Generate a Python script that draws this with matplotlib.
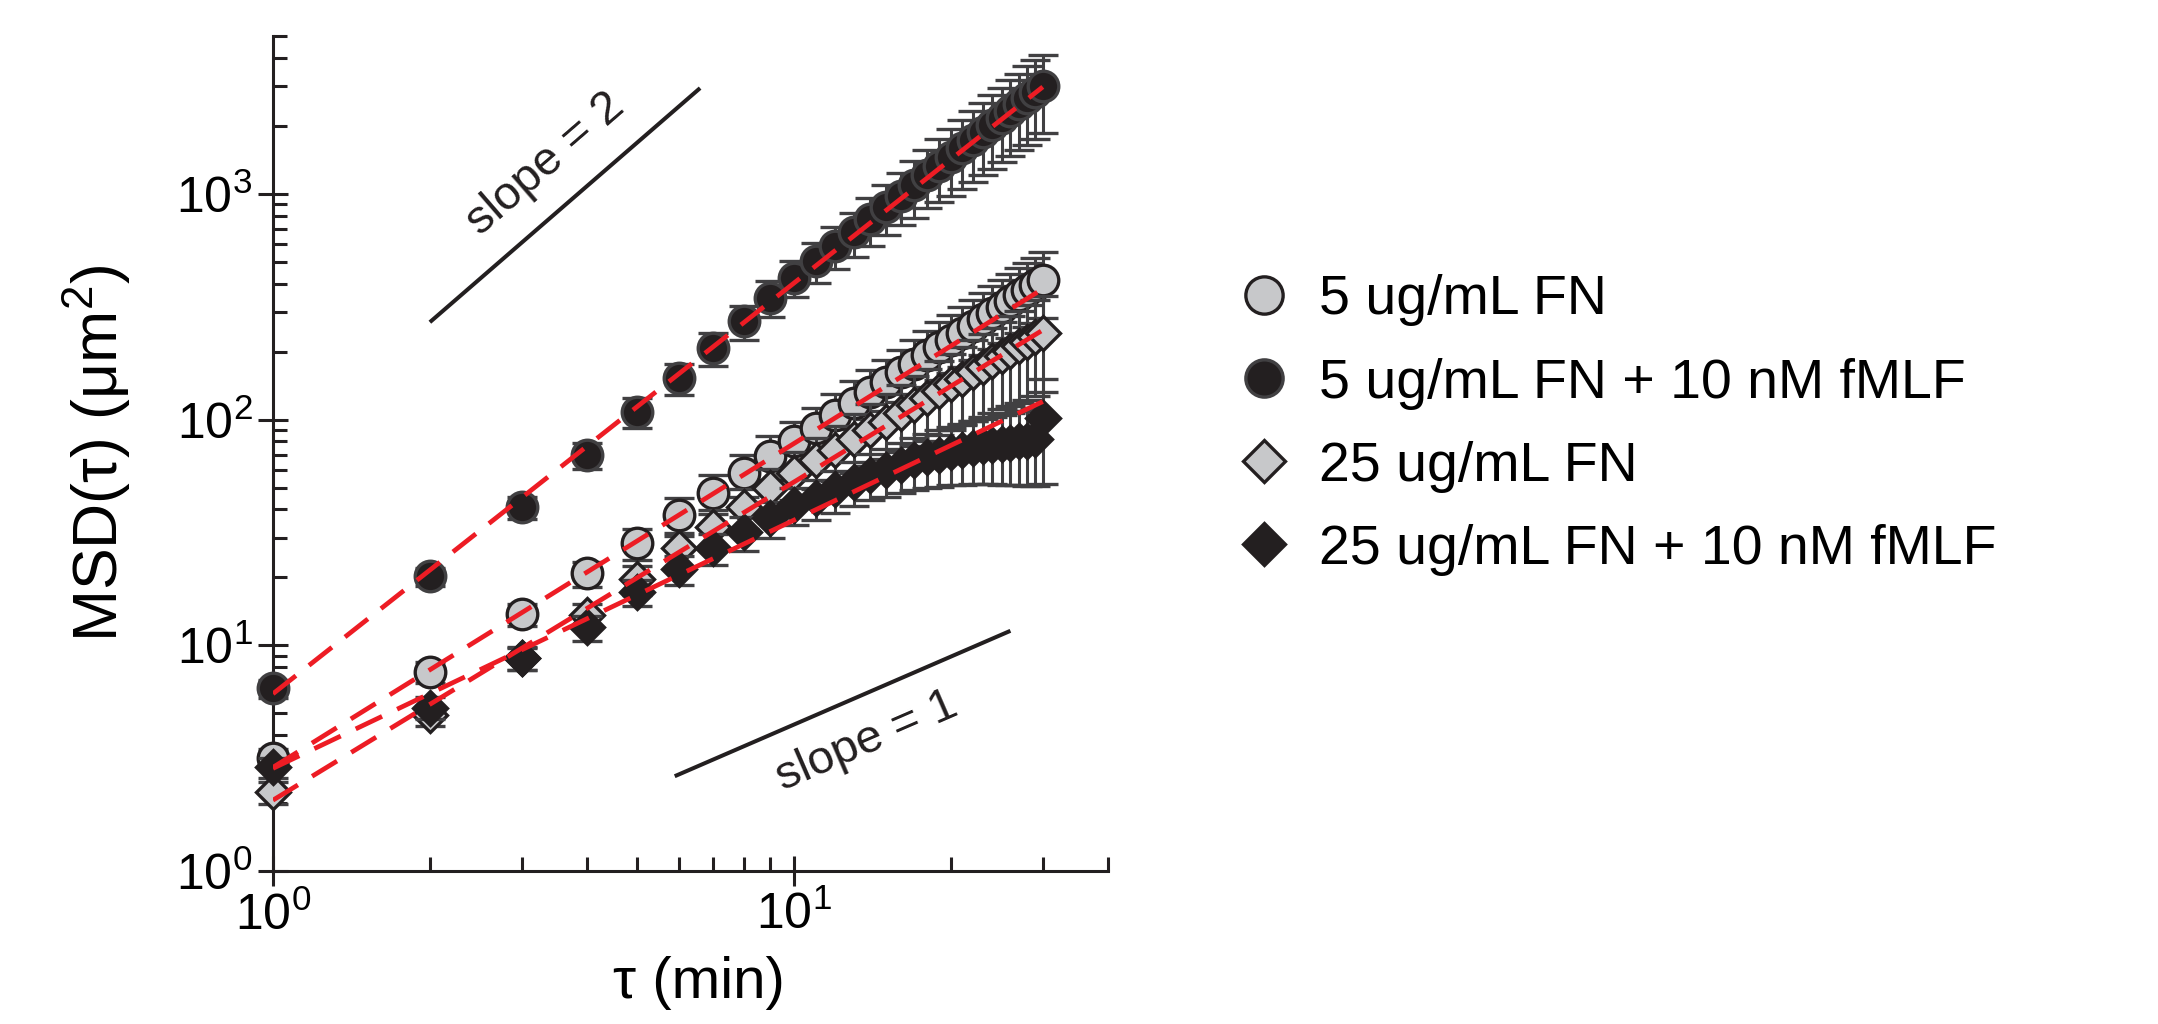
import numpy as np
import matplotlib
matplotlib.use('Agg')
import matplotlib.pyplot as plt

plt.rcParams['font.family'] = ['Liberation Sans', 'DejaVu Sans']
plt.rcParams['mathtext.fontset'] = 'custom'
plt.rcParams['mathtext.rm'] = 'Liberation Sans'
plt.rcParams['mathtext.it'] = 'Liberation Sans:italic'
plt.rcParams['mathtext.bf'] = 'Liberation Sans:bold'
plt.rcParams['lines.scale_dashes'] = False

# lag time (min)
tau = [1, 2, 3, 4, 5, 6, 7, 8, 9, 10, 11, 12, 13, 14, 15,
       16, 17, 18, 19, 20, 21, 22, 23, 24, 25, 26, 27, 28, 29, 30]

labels = ['5 ug/mL FN', '5 ug/mL FN + 10 nM fMLF',
          '25 ug/mL FN', '25 ug/mL FN + 10 nM fMLF']

# MSD values (um^2)
msd_5fn = [3.16, 7.6, 13.7, 20.8, 28.3, 37.6, 47.5, 57.7, 69.3, 80,
           92, 105, 119, 133, 147, 162, 177, 193, 210, 226,
           243, 261, 279, 297, 316, 335, 355, 375, 395, 416]
msd_5fn_fmlf = [6.45, 20.2, 40.8, 69.5, 108, 153, 208, 272, 347, 425,
                505, 590, 676, 772, 876, 982, 1090, 1212, 1330, 1462,
                1590, 1730, 1870, 2020, 2170, 2330, 2490, 2660, 2830, 3000]
msd_25fn = [2.24, 4.9, 8.8, 13.6, 19.6, 26.9, 33.3, 40.8, 49.5, 58,
            66, 73.5, 81.6, 90, 98, 107, 116, 124, 134, 143,
            152, 162, 171, 181, 191, 201, 211, 221, 232, 243]
msd_25fn_fmlf = [2.88, 5.3, 8.75, 12.0, 17.2, 21.7, 26.9, 31.6, 36.5, 42,
                 45, 49, 53, 57, 60, 63, 66, 68, 70, 72,
                 73.5, 75, 76, 77, 78, 79, 80, 80, 82, 102]

# error bars
err_5fn = [0.3, 0.8, 1.5, 2.7, 4.5, 7.1, 9.5, 12.1, 15.2, 17.6,
           20.7, 24.2, 28.6, 32.6, 37.5, 42.1, 47.8, 53.1, 59.9, 65.5,
           71.7, 78.3, 85.1, 91.6, 98.0, 105, 112, 119, 127, 134]
err_5fn_fmlf = [0.6, 1.8, 4.5, 9, 16, 24, 35, 46, 62, 77,
                101, 124, 149, 185, 219, 255, 305, 351, 412, 482,
                541, 605, 655, 727, 781, 862, 921, 1010, 1075, 1140]
err_25fn = [0.25, 0.5, 1.0, 1.7, 2.9, 4.6, 6.3, 8.2, 10.9, 14,
            17, 20, 23.7, 27.5, 31.4, 35.3, 39.4, 43.4, 48.2, 52.9,
            57.8, 63.2, 68.4, 74.2, 80.2, 86.4, 92.8, 99.5, 105, 110]
err_25fn_fmlf = [0.3, 0.6, 1.0, 1.5, 2.3, 3.2, 4.3, 5.4, 6.6, 8.0,
                 9.0, 10.3, 11.7, 13.1, 14.4, 15.8, 17.2, 18.4, 19.6, 20.9,
                 22.0, 23.3, 24.3, 25.4, 26.5, 27.6, 28.8, 29.2, 31, 50]

# power-law fits MSD = A * tau^alpha (red dashed lines)
fit_amp = [2.88, 6.1, 2.06, 2.85]
fit_alpha = [1.435, 1.82, 1.41, 1.10]

# reference slope guides
slope2_x = [2.0, 6.6]
slope2_y0 = 270
slope1_x = [5.9, 26.0]
slope1_y0 = 2.63

GRAY = '#c7c8ca'
BLACK = '#231f20'
DARK = '#414042'
RED = '#ed1c24'

series = [msd_5fn, msd_5fn_fmlf, msd_25fn, msd_25fn_fmlf]
errors = [err_5fn, err_5fn_fmlf, err_25fn, err_25fn_fmlf]
markers = ['o', 'o', 'D', 'D']
faces = [GRAY, BLACK, GRAY, BLACK]
edges = [BLACK, DARK, BLACK, BLACK]
msizes = [11.0, 11.0, 8.6, 8.6]

fig = plt.figure(figsize=(10.79, 5.12), dpi=200)
ax = fig.add_axes([0.1265, 0.1494, 0.3869, 0.8154])

ax.set_xscale('log')
ax.set_yscale('log')
ax.set_xlim(1, 40)
ax.set_ylim(1, 5000)

handles = []
for i in range(4):
    c = ax.errorbar(tau, series[i], yerr=errors[i], fmt=markers[i],
                    ms=msizes[i], mfc=faces[i], mec=edges[i], mew=1.2,
                    ecolor=DARK, elinewidth=1.1, capsize=5.4, capthick=1.1,
                    clip_on=False, zorder=3 + i)
    handles.append(c[0])

t = np.array([tau[0], tau[-1]], dtype=float)
for a, al in zip(fit_amp, fit_alpha):
    ax.plot(t, a * t ** al, color=RED, lw=1.7, dashes=(10.5, 6), zorder=10)

# slope guide lines
s2x = np.array(slope2_x)
s2y = slope2_y0 * (s2x / s2x[0]) ** 2
s1x = np.array(slope1_x)
s1y = slope1_y0 * (s1x / s1x[0])
ax.plot(s2x, s2y, color=BLACK, lw=1.45, solid_capstyle='butt')
ax.plot(s1x, s1y, color=BLACK, lw=1.45, solid_capstyle='butt')


def label_line(xs, ys, text, normal, along):
    p0 = ax.transData.transform((xs[0], ys[0]))
    p1 = ax.transData.transform((xs[1], ys[1]))
    ang = np.arctan2(p1[1] - p0[1], p1[0] - p0[0])
    xm = np.sqrt(xs[0] * xs[1])
    ym = np.sqrt(ys[0] * ys[1])
    ox = along * np.cos(ang) - normal * np.sin(ang)
    oy = along * np.sin(ang) + normal * np.cos(ang)
    ax.annotate(text, xy=(xm, ym), xytext=(ox, oy), textcoords='offset points',
                rotation=np.degrees(ang), rotation_mode='anchor',
                ha='center', va='center', fontsize=17, color=BLACK)


label_line(s2x, s2y, 'slope = 2', 15.8, 4.2)
label_line(s1x, s1y, 'slope = 1', -16.0, 2.4)

for side in ['top', 'right']:
    ax.spines[side].set_visible(False)
for side in ['left', 'bottom']:
    ax.spines[side].set_linewidth(1.1)
    ax.spines[side].set_color(BLACK)

ax.tick_params(which='major', direction='inout', length=10.8, width=1.1,
               color=BLACK, labelsize=18, pad=2)
ax.tick_params(which='minor', direction='in', length=5, width=1.1, color=BLACK)

ax.set_xlabel('τ (min)', fontsize=21)
ax.set_ylabel('MSD(τ) (μm$^{2}$)', fontsize=22.5)
ax.xaxis.set_label_coords(0.51, -0.102)
ax.yaxis.set_label_coords(-0.168, 0.5)

ax.legend(handles, labels, loc='upper left', bbox_to_anchor=(0.5728, 0.732),
          bbox_transform=fig.transFigure, frameon=False, fontsize=20,
          markerscale=1.22, handlelength=1.0, handletextpad=0.5,
          labelspacing=0.56, borderpad=0, borderaxespad=0)

fig.savefig('out.png', dpi=200)
